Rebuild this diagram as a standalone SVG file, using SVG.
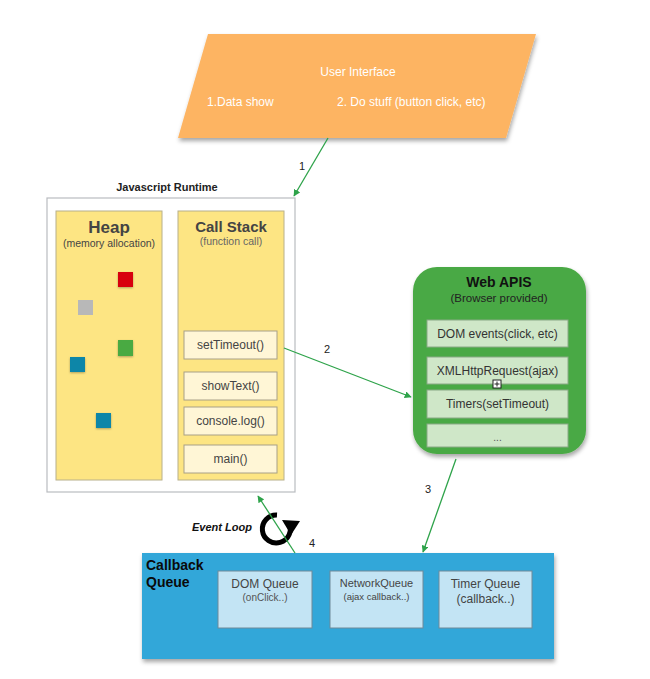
<svg xmlns="http://www.w3.org/2000/svg" width="650" height="679" viewBox="0 0 650 679">
<defs>
<style>
text{font-family:"Liberation Sans",Arial,sans-serif;}
.w{fill:#ffffff;font-size:12px;}
.dk{fill:#444444;}
.panel{fill:#fde583;stroke:#b8b08a;stroke-width:1;}
.stk{fill:#fff6d6;stroke:#a8a088;stroke-width:1;}
.api{fill:#cfe7c8;stroke:#8aa986;stroke-width:1;}
.q{fill:#c3e4f4;stroke:#6f8a99;stroke-width:1;}
.conn{stroke:#2ea34a;stroke-width:1.3;fill:none;marker-end:url(#ah);}
.lbl{font-size:11px;fill:#222222;}
</style>
<marker id="ah" viewBox="0 0 10 10" refX="9" refY="5" markerWidth="7" markerHeight="7" orient="auto" markerUnits="userSpaceOnUse">
<path d="M0,0 L10,5 L0,10 z" fill="#2ea34a"/>
</marker>
<filter id="sh" x="-10%" y="-10%" width="130%" height="130%">
<feDropShadow dx="1" dy="3" stdDeviation="2" flood-color="#000" flood-opacity="0.35"/>
</filter>
<filter id="sh2" x="-10%" y="-10%" width="130%" height="130%">
<feDropShadow dx="0" dy="1" stdDeviation="1" flood-color="#000" flood-opacity="0.3"/>
</filter>
</defs>
<rect width="650" height="679" fill="#ffffff"/>

<g id="ui">
<polygon points="208,34 536,34 506,138 178,138" fill="#fdb462" filter="url(#sh)"/>
<text class="w" x="358" y="76" text-anchor="middle">User Interface</text>
<text class="w" x="207" y="106">1.Data show</text>
<text class="w" x="337" y="106">2. Do stuff (button click, etc)</text>
</g>

<g id="runtime">
<text x="167" y="191" text-anchor="middle" font-size="11" font-weight="bold" fill="#222">Javascript Runtime</text>
<rect x="47" y="198" width="248" height="294" fill="#ffffff" stroke="#b9bcc0" stroke-width="1.2"/>
</g>

<g id="heap">
<rect class="panel" x="56" y="211" width="106" height="269"/>
<text class="dk" x="109" y="233" text-anchor="middle" font-size="17" font-weight="bold">Heap</text>
<text class="dk" x="109" y="247" text-anchor="middle" font-size="10.5">(memory allocation)</text>
<rect x="118" y="272" width="15" height="15" fill="#d8000c" filter="url(#sh2)"/>
<rect x="78" y="300" width="15" height="15" fill="#b8b8b8"/>
<rect x="118" y="340" width="15" height="16" fill="#4aaa42" filter="url(#sh2)"/>
<rect x="70" y="357" width="15" height="15" fill="#0f86a8" filter="url(#sh2)"/>
<rect x="96" y="413" width="15" height="15" fill="#0f86a8" filter="url(#sh2)"/>
</g>

<g id="callstack">
<rect class="panel" x="178" y="211" width="106" height="269"/>
<text class="dk" x="231" y="232" text-anchor="middle" font-size="15" font-weight="bold">Call Stack</text>
<text fill="#666" x="231" y="245" text-anchor="middle" font-size="10.5">(function call)</text>
<rect class="stk" x="184" y="331" width="93" height="28"/>
<text class="dk" x="230.5" y="349" text-anchor="middle" font-size="12">setTimeout()</text>
<rect class="stk" x="184" y="372" width="93" height="28"/>
<text class="dk" x="230.5" y="390" text-anchor="middle" font-size="12">showText()</text>
<rect class="stk" x="184" y="407" width="93" height="28"/>
<text class="dk" x="230.5" y="425" text-anchor="middle" font-size="12">console.log()</text>
<rect class="stk" x="184" y="445" width="93" height="28"/>
<text class="dk" x="230.5" y="463" text-anchor="middle" font-size="12">main()</text>
</g>

<g id="webapis">
<rect x="413" y="267" width="173" height="187" rx="24" ry="24" fill="#4aa944" filter="url(#sh)"/>
<text x="499" y="287" text-anchor="middle" font-size="14" font-weight="bold" fill="#111">Web APIS</text>
<text x="499" y="302" text-anchor="middle" font-size="11.5" fill="#222">(Browser provided)</text>
<rect class="api" x="427" y="320" width="141" height="27"/>
<text x="497.5" y="338" text-anchor="middle" font-size="12" fill="#333">DOM events(click, etc)</text>
<rect class="api" x="427" y="357" width="141" height="27"/>
<text x="497.5" y="375" text-anchor="middle" font-size="12" fill="#333">XMLHttpRequest(ajax)</text>
<rect class="api" x="427" y="390" width="141" height="28"/>
<text x="497.5" y="408" text-anchor="middle" font-size="12" fill="#333">Timers(setTimeout)</text>
<rect class="api" x="427" y="424" width="141" height="23"/>
<text x="497.5" y="441" text-anchor="middle" font-size="10" fill="#555">...</text>
<rect x="493" y="380" width="8" height="8" fill="#ffffff" stroke="#222" stroke-width="1"/>
<path d="M497,381.5 V386.5 M494.5,384 H499.5" stroke="#222" stroke-width="1"/>
</g>

<g id="callbackqueue">
<rect x="142" y="553" width="412" height="106" fill="#33a7d9" filter="url(#sh)"/>
<text x="146" y="570" font-size="14" font-weight="bold" fill="#0a0a0a">Callback</text>
<text x="146" y="587" font-size="14" font-weight="bold" fill="#0a0a0a">Queue</text>
<rect class="q" x="218" y="571" width="94" height="57"/>
<text class="dk" x="265" y="588" text-anchor="middle" font-size="12">DOM Queue</text>
<text fill="#555" x="265" y="601" text-anchor="middle" font-size="10">(onClick..)</text>
<rect class="q" x="330" y="571" width="93" height="57"/>
<text class="dk" x="376.5" y="587" text-anchor="middle" font-size="11">NetworkQueue</text>
<text class="dk" x="376.5" y="600" text-anchor="middle" font-size="9.5">(ajax callback..)</text>
<rect class="q" x="439" y="571" width="93" height="57"/>
<text class="dk" x="485.5" y="588" text-anchor="middle" font-size="12">Timer Queue</text>
<text class="dk" x="485.5" y="603" text-anchor="middle" font-size="12">(callback..)</text>
</g>

<g id="eventloop">
<text x="192" y="531" font-size="11" font-weight="bold" font-style="italic" fill="#111">Event Loop</text>
<path d="M277,515 A14,14 0 1 0 289,523" fill="none" stroke="#000" stroke-width="5"/>
<polygon points="282,520 300,521 291,535" fill="#000"/>
</g>

<g id="connectors">
<line class="conn" x1="328" y1="138" x2="294" y2="196"/>
<line class="conn" x1="284" y1="348" x2="411" y2="397"/>
<line class="conn" x1="456" y1="459" x2="423" y2="552"/>
<line class="conn" x1="295" y1="553" x2="258" y2="496"/>
<text class="lbl" x="299" y="170">1</text>
<text class="lbl" x="324" y="353">2</text>
<text class="lbl" x="425" y="493">3</text>
<text class="lbl" x="309" y="547">4</text>
</g>
</svg>
